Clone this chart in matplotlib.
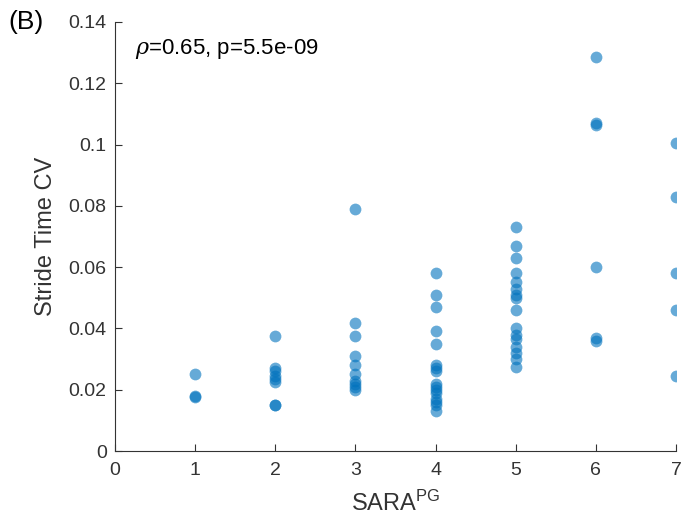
import matplotlib
matplotlib.use("Agg")
import matplotlib.pyplot as plt
import numpy as np

plt.rcParams['font.family'] = ['Liberation Sans', 'DejaVu Sans']
plt.rcParams['mathtext.fontset'] = 'dejavuserif'

sara_1 = [0.025, 0.018, 0.0175]
sara_2 = [0.0375, 0.027, 0.026, 0.0245, 0.0235, 0.0225, 0.015, 0.015]
sara_3 = [0.079, 0.0417, 0.0375, 0.031, 0.028, 0.025, 0.023, 0.022, 0.021, 0.020]
sara_4 = [0.058, 0.051, 0.047, 0.039, 0.035, 0.028, 0.027, 0.026, 0.022,
          0.021, 0.020, 0.019, 0.017, 0.016, 0.015, 0.013]
sara_5 = [0.073, 0.067, 0.063, 0.058, 0.055, 0.053, 0.051, 0.050, 0.046,
          0.040, 0.038, 0.0365, 0.034, 0.032, 0.030, 0.0275]
sara_6 = [0.1287, 0.107, 0.1065, 0.060, 0.037, 0.036]
sara_7 = [0.1005, 0.083, 0.058, 0.046, 0.0245]

groups = {1: sara_1, 2: sara_2, 3: sara_3, 4: sara_4, 5: sara_5, 6: sara_6, 7: sara_7}
xs = []
ys = []
for k, v in groups.items():
    xs += [k] * len(v)
    ys += v

annotation = r"$\rho$=0.65, p=5.5e-09"
xticks = [0, 1, 2, 3, 4, 5, 6, 7]
yticks = [0, 0.02, 0.04, 0.06, 0.08, 0.1, 0.12, 0.14]
yticklabels = ["0", "0.02", "0.04", "0.06", "0.08", "0.1", "0.12", "0.14"]

fig = plt.figure(figsize=(6.86, 5.26), dpi=100)
ax = fig.add_axes([115/686, 1 - 451/526, (676-115)/686, (451-22)/526])

ax.scatter(xs, ys, s=72, color=(0, 0.447, 0.741), alpha=0.6, linewidths=0, zorder=3)

ax.set_xlim(0, 7)
ax.set_ylim(0, 0.14)
ax.set_xticks(xticks)
ax.set_yticks(yticks)
ax.set_yticklabels(yticklabels)
axc = (0.2, 0.2, 0.2)
for s in ['top', 'right']:
    ax.spines[s].set_visible(False)
for s in ['left', 'bottom']:
    ax.spines[s].set_color(axc)
    ax.spines[s].set_linewidth(0.8)
ax.tick_params(direction='in', length=5, width=0.8, colors=axc, labelsize=14, pad=8)
ax.tick_params(axis='y', pad=6)

ax.set_xlabel(r"SARA$^{\mathregular{PG}}$", fontsize=17, color=axc, labelpad=8)
ax.set_ylabel("Stride Time CV", fontsize=17, color=axc, labelpad=8)

ax.text(0.035, 0.965, annotation, transform=ax.transAxes, fontsize=16, va='top', ha='left', color='black')
fig.text(8/686, 1 - 22/526, "(B)", fontsize=19, va='center', ha='left', color='black')

fig.savefig("out.png", dpi=100)
